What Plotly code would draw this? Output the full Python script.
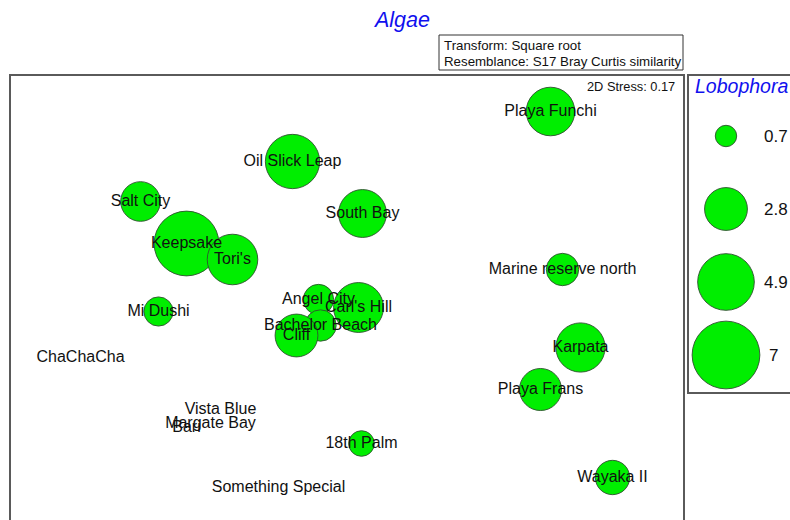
import plotly.graph_objects as go

# nMDS ordination of algal assemblages; bubbles show Lobophora cover
sites = [
    "Playa Funchi", "Oil Slick Leap", "Salt City", "South Bay", "Keepsake",
    "Tori's", "Marine reserve north", "Mi Dushi", "Angel City", "Carl's Hill",
    "Bachelor Beach", "Cliff", "ChaChaCha", "Karpata", "Playa Frans",
    "Vista Blue", "Margate Bay", "Bari", "18th Palm", "Something Special",
    "Wayaka II",
]
mds1 = [1.02, -0.27, -1.03, 0.08, -0.80, -0.57, 1.08, -0.94, -0.14, 0.06,
        -0.13, -0.25, -1.33, 1.17, 0.97, -0.63, -0.68, -0.80, 0.075, -0.34,
        1.33]
mds2 = [0.93, 0.68, 0.48, 0.42, 0.27, 0.19, 0.14, -0.07, -0.01, -0.05,
        -0.14, -0.19, -0.30, -0.25, -0.46, -0.56, -0.63, -0.65, -0.73, -0.95,
        -0.90]
lobophora = [3.6, 4.5, 2.4, 3.5, 6.4, 3.9, 1.6, 1.3, 1.4, 3.8,
             1.5, 2.8, 0.0, 3.7, 2.7, 0.0, 0.0, 0.0, 1.0, 0.0,
             1.8]
legend_values = [0.7, 2.8, 4.9, 7]
legend_labels = ["0.7", "2.8", "4.9", "7"]

W, H = 790, 520
ML, MT = 10, 75
PW, PH = W - ML, H - MT


def px(x):
    return (x - ML) / PW


def py(y):
    return (H - y) / PH


# bubble area proportional to value (diameter ~25.6*sqrt(v) px)
SIZEREF = 2 / 655.36
GREEN = "rgb(0,238,0)"
EDGE = "#2f4f2f"
FONT = "Liberation Sans, Arial, sans-serif"
BLUE = "#1010ee"

fig = go.Figure()

fig.add_trace(go.Scatter(
    x=mds1, y=mds2, text=sites, mode="markers+text",
    textposition="middle center",
    textfont=dict(family=FONT, size=16, color="#111111"),
    marker=dict(
        size=lobophora, sizemode="area", sizeref=SIZEREF, sizemin=0,
        color=GREEN,
        line=dict(color=EDGE, width=[0.9 if v > 0 else 0 for v in lobophora]),
        opacity=1,
    ),
    hoverinfo="text", showlegend=False, cliponaxis=False,
    xaxis="x", yaxis="y",
))

# bubble size key
fig.add_trace(go.Scatter(
    x=[0.3725] * len(legend_values), y=list(range(len(legend_values))),
    mode="markers",
    marker=dict(size=legend_values, sizemode="area", sizeref=SIZEREF,
                color=GREEN, opacity=1, line=dict(color=EDGE, width=0.9)),
    hoverinfo="skip", showlegend=False, cliponaxis=False,
    xaxis="x2", yaxis="y2",
))

annotations = []
for i, lab in enumerate(legend_labels):
    annotations.append(dict(
        x=0.725, y=i, xref="x2", yref="y2", text=lab, showarrow=False,
        xanchor="left", yanchor="middle",
        xshift=5 if "." not in lab else 0,
        font=dict(family=FONT, size=17, color="#111111"),
    ))

annotations += [
    dict(x=px(401), y=py(20), xref="paper", yref="paper", text="<i>Algae</i>",
         showarrow=False, xanchor="center", yanchor="middle",
         font=dict(family=FONT, size=21.5, color=BLUE)),
    dict(x=px(693), y=py(86), xref="paper", yref="paper",
         text="<i>Lobophora</i>", showarrow=False, xanchor="left",
         yanchor="middle", font=dict(family=FONT, size=19.5, color=BLUE)),
    dict(x=px(442), y=py(45), xref="paper", yref="paper",
         text="Transform: Square root", showarrow=False, xanchor="left",
         yanchor="middle", font=dict(family=FONT, size=13.3, color="#111111")),
    dict(x=px(442), y=py(61.5), xref="paper", yref="paper",
         text="Resemblance: S17 Bray Curtis similarity", showarrow=False,
         xanchor="left", yanchor="middle",
         font=dict(family=FONT, size=13.3, color="#111111")),
    dict(x=px(677), y=py(86), xref="paper", yref="paper",
         text="2D Stress: 0.17", showarrow=False, xanchor="right",
         yanchor="middle", font=dict(family=FONT, size=12.8, color="#111111")),
]

shapes = [
    # ordination frame (open at the bottom edge of the page)
    dict(type="rect", xref="paper", yref="paper", x0=px(10), x1=px(684),
         y0=-0.05, y1=1, line=dict(color="#5a5a5a", width=2), layer="below"),
    # key frame
    dict(type="rect", xref="paper", yref="paper", x0=px(688), x1=px(800),
         y0=py(393), y1=1, line=dict(color="#5a5a5a", width=2), layer="below"),
    # transform / resemblance box
    dict(type="rect", xref="paper", yref="paper", x0=px(439), x1=px(683),
         y0=py(70), y1=py(35), line=dict(color="#333333", width=1)),
]

hidden = dict(visible=False, showgrid=False, zeroline=False, fixedrange=True)

fig.update_layout(
    width=W, height=H,
    margin=dict(l=ML, r=0, t=MT, b=0, pad=0),
    paper_bgcolor="white", plot_bgcolor="rgba(0,0,0,0)",
    xaxis=dict(domain=[0, px(683)], range=[-1.6825, 1.6825], **hidden),
    yaxis=dict(domain=[0, 1], range=[-1.1125, 1.1125], **hidden),
    xaxis2=dict(domain=[px(688), 1], range=[0, 1], anchor="y2", **hidden),
    yaxis2=dict(domain=[py(393), 1], range=[3.5205, -0.8356], anchor="x2",
                **hidden),
    annotations=annotations,
    shapes=shapes,
    showlegend=False,
)

fig.write_html("out.html")
